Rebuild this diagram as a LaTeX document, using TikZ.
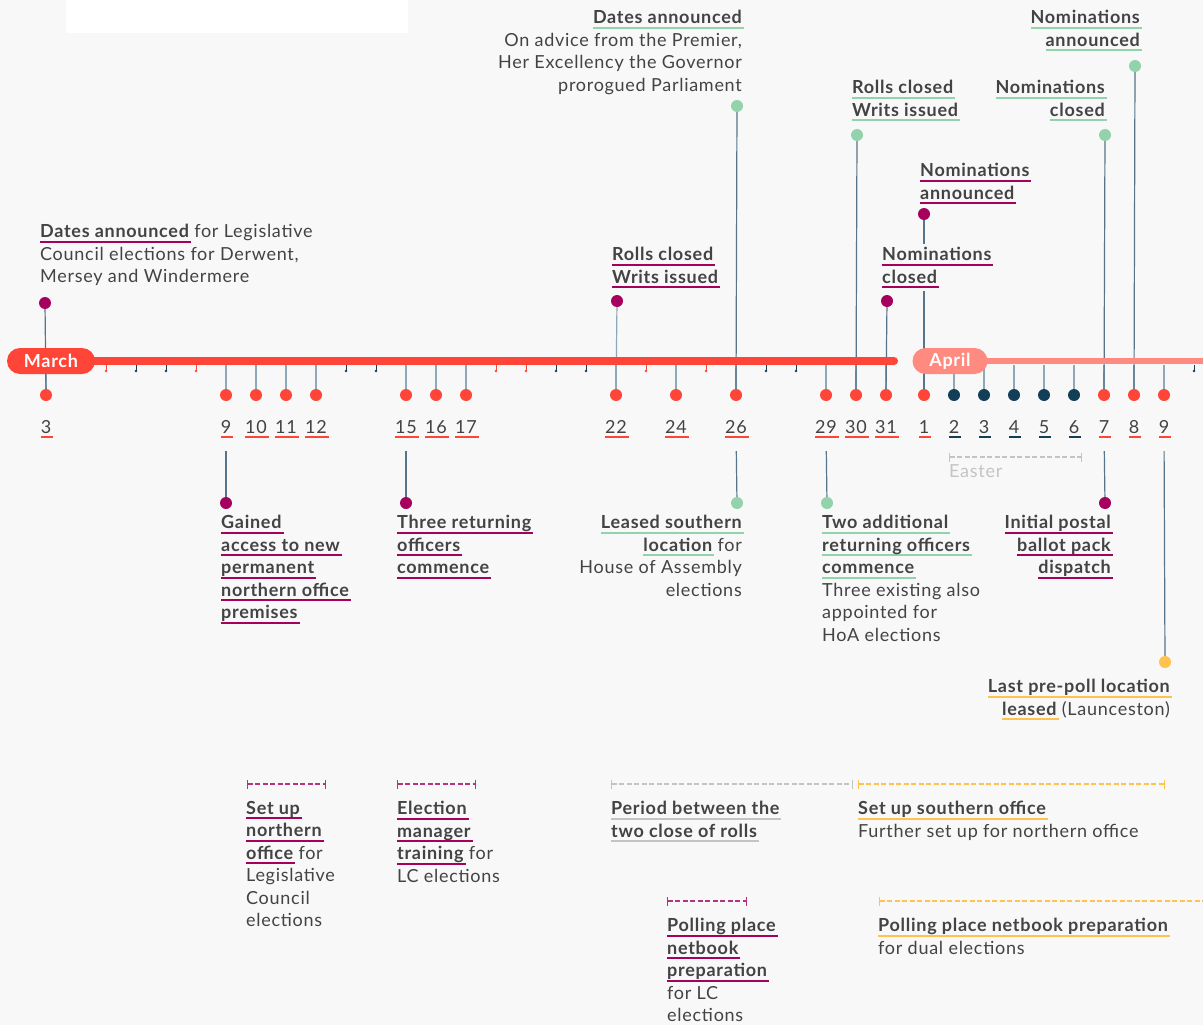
\documentclass[tikz,border=0pt]{standalone}
\usepackage{fontspec}
\setmainfont{Lato}[LetterSpace=4]
\usetikzlibrary{arrows.meta, positioning, calc}

\definecolor{bgc}{HTML}{F8F8F8}
\definecolor{redc}{HTML}{FF4438}
\definecolor{aprc}{HTML}{FF8A80}
\definecolor{magc}{HTML}{A6005F}
\definecolor{grnc}{HTML}{93D3AB}
\definecolor{yelc}{HTML}{FFC24F}
\definecolor{navc}{HTML}{123F57}
\definecolor{stemc}{HTML}{56748A}
\definecolor{lstemc}{HTML}{8FA8B7}
\definecolor{txtc}{HTML}{434343}
\definecolor{gryc}{HTML}{C4C4C4}

% underlined words
\newlength\ulw
\newcommand\ulc[2]{\settowidth\ulw{#2}\rlap{\textcolor{#1}{\rule[-5pt]{\dimexpr\ulw+2pt}{2pt}}}#2}
\newcommand\ev[2]{\ulc{#1}{{\bfseries #2}}}

\tikzset{
  lbl/.style={font=\fontsize{18}{22.5}\selectfont, text=txtc, inner sep=0pt, align=left},
  lblr/.style={lbl, align=right},
  num/.style={font=\fontsize{18}{20}\selectfont, text=txtc, inner sep=0pt},
  dot/.style={circle, inner sep=0pt, minimum size=12pt},
  stem/.style={draw=stemc, line width=1.2pt},
  sstem/.style={draw=lstemc, line width=1.2pt},
  pill/.style={rounded corners=13pt, minimum height=26pt, text=white,
    font=\fontsize{18}{20}\selectfont\bfseries},
  rng/.style={dash pattern=on 5pt off 2.5pt, line width=1.2pt,
    arrows={Bar[width=9pt]-Bar[width=9pt]}},
}

\begin{document}
\begin{tikzpicture}[x=1pt, y=-1pt]
    % background
    \fill[bgc] (0,0) rectangle (1203,1025);
    \useasboundingbox (0,0) rectangle (1203,1025);
    \fill[white] (66,0) rectangle (408,33);

    % March days
    \foreach \d in {3,9,10,11,12,15,16,17,22,24,26,29,30,31} {
        \coordinate (bm\d) at ({46+(\d-3)*30},365);
        \node[dot, fill=redc] (dm\d) at ({46+(\d-3)*30},395) {};
        \node[num, anchor=base] (nm\d) at ({46+(\d-3)*30},433) {\ulc{redc}{\d}};
        \draw[sstem] (bm\d) -- (dm\d);
    }
    % April days
    \foreach \d/\c in {1/redc,2/navc,3/navc,4/navc,5/navc,6/navc,7/redc,8/redc,9/redc} {
        \coordinate (ba\d) at ({924+(\d-1)*30},365);
        \node[dot, fill=\c] (da\d) at ({924+(\d-1)*30},395) {};
        \node[num, anchor=base] (na\d) at ({924+(\d-1)*30},433) {\ulc{\c}{\d}};
        \draw[sstem] (ba\d) -- (da\d);
    }
    % small ticks
    \foreach \d/\c in {5/redc,6/navc,7/navc,8/redc,13/navc,14/navc,18/redc,19/redc,20/navc,21/navc,23/redc,25/redc,27/navc,28/navc} {
        \draw[\c, line width=0.8pt] ({46+(\d-3)*30},365) -- ++(0,6);
        \fill[\c] ({46+(\d-3)*30},371) circle (1.3pt);
    }
    \draw[navc, line width=0.8pt] (1194,365) -- ++(0,6);
    \fill[navc] (1194,371) circle (1.3pt);

    % events above the line
    \node[dot, fill=magc] (em3) at (45,303) {};
    \node[lbl, anchor=north west] (lem3) at (40,224)
        {\ev{magc}{Dates announced} for Legislative\\Council elections for Derwent,\\Mersey and Windermere};
    \node[dot, fill=magc] (em22) at (617,301) {};
    \node[lbl, anchor=north west] (lem22) at (612,247)
        {\ev{magc}{Rolls closed}\\\ev{magc}{Writs issued}};
    \node[dot, fill=grnc] (em26) at (737,106) {};
    \node[lblr, anchor=north east] (lem26) at (742,10)
        {\ev{grnc}{Dates announced}\\On advice from the Premier,\\Her Excellency the Governor\\prorogued Parliament};
    \node[dot, fill=grnc] (em30) at (857,135) {};
    \node[lbl, anchor=north west] (lem30) at (852,80)
        {\ev{grnc}{Rolls closed}\\\ev{grnc}{Writs issued}};
    \node[dot, fill=magc] (em31) at (887,301) {};
    \node[lbl, anchor=north west, inner ysep=3pt] (lem31) at (882,244)
        {\ev{magc}{Nominations}\\\ev{magc}{closed}};
    \node[dot, fill=magc] (ea1) at (924,214) {};
    \node[lbl, anchor=north west] (lea1) at (920,163)
        {\ev{magc}{Nominations}\\\ev{magc}{announced}};
    \node[dot, fill=grnc] (ea7) at (1105,135) {};
    \node[lblr, anchor=north east] (lea7) at (1105,80)
        {\ev{grnc}{Nominations}\\\ev{grnc}{closed}};
    \node[dot, fill=grnc] (ea8) at (1135,66) {};
    \node[lblr, anchor=north east] (lea8) at (1140,10)
        {\ev{grnc}{Nominations}\\\ev{grnc}{announced}};

    \draw[stem] (em3) -- (dm3);
    \draw[sstem] (em22) -- (dm22);
    \draw[stem] (em26) -- (dm26);
    \draw[stem] (em30) -- (dm30);
    \draw[stem] (em31) -- (dm31);
    \draw[stem] (ea1) -- (ea1 |- lem31.north);
    \draw[stem] (ea1 |- lem31.south) -- (da1);
    \draw[stem] (ea7) -- (da7);
    \draw[stem] (ea8) -- (da8);

    % events below the line
    \node[dot, fill=magc] (fm9) at (226,503) {};
    \node[lbl, anchor=north west] (lfm9) at (221,515)
        {\ev{magc}{Gained}\\\ev{magc}{access to new}\\\ev{magc}{permanent}\\\ev{magc}{northern office}\\\ev{magc}{premises}};
    \node[dot, fill=magc] (fm15) at (406,503) {};
    \node[lbl, anchor=north west] (lfm15) at (397,515)
        {\ev{magc}{Three returning}\\\ev{magc}{officers}\\\ev{magc}{commence}};
    \node[dot, fill=grnc] (fm26) at (737,503) {};
    \node[lblr, anchor=north east] (lfm26) at (742,515)
        {\ev{grnc}{Leased southern}\\\ev{grnc}{location} for\\House of Assembly\\elections};
    \node[dot, fill=grnc] (fm29) at (827,503) {};
    \node[lbl, anchor=north west] (lfm29) at (822,515)
        {\ev{grnc}{Two additional}\\\ev{grnc}{returning officers}\\\ev{grnc}{commence}\\Three existing also\\appointed for\\HoA elections};
    \node[dot, fill=magc] (fa7) at (1105,503) {};
    \node[lblr, anchor=north east] (lfa7) at (1111,515)
        {\ev{magc}{Initial postal}\\\ev{magc}{ballot pack}\\\ev{magc}{dispatch}};
    \node[dot, fill=yelc] (fa9) at (1165,662) {};
    \node[lblr, anchor=north east] (lfa9) at (1170,679)
        {\ev{yelc}{Last pre-poll location}\\\ev{yelc}{leased} (Launceston)};

    \foreach \a/\b in {nm9/fm9, nm15/fm15, nm26/fm26, nm29/fm29, na7/fa7, na9/fa9}
        \draw[stem, shorten <=13pt] (\a) -- (\b);

    % Easter
    \draw[rng, gryc] (949,457) -- (1082,457);
    \node[lbl, text=gryc, anchor=north west] (easter) at (949,464) {Easter};

    % periods
    \draw[rng, magc!80] (247,784) -- (326,784);
    \node[lbl, anchor=north west] (pnorth) at (246,801)
        {\ev{magc}{Set up}\\\ev{magc}{northern}\\\ev{magc}{office} for\\Legislative\\Council\\elections};
    \draw[rng, magc!80] (397,784) -- (476,784);
    \node[lbl, anchor=north west] (ptrain) at (397,801)
        {\ev{magc}{Election}\\\ev{magc}{manager}\\\ev{magc}{training} for\\LC elections};
    \draw[rng, gryc] (611,784) -- (853,784);
    \node[lbl, anchor=north west] (prolls) at (611,801)
        {\ev{gryc}{Period between the}\\\ev{gryc}{two close of rolls}};
    \draw[rng, yelc] (858,784) -- (1165,784);
    \node[lbl, anchor=north west] (psouth) at (858,801)
        {\ev{yelc}{Set up southern office}\\Further set up for northern office};
    \draw[rng, magc!80] (667,901) -- (747,901);
    \node[lbl, anchor=north west] (pnetlc) at (667,918)
        {\ev{magc}{Polling place}\\\ev{magc}{netbook}\\\ev{magc}{preparation}\\for LC\\elections};
    \draw[rng, yelc, arrows={Bar[width=9pt]-}] (879,901) -- (1215,901);
    \node[lbl, anchor=north west] (pnetdual) at (878,918)
        {\ev{yelc}{Polling place netbook preparation}\\for dual elections};

    % month bars
    \draw[redc, line width=8pt, line cap=round] (90,361) -- (894,361);
    \draw[aprc, line width=6pt] (980,361) -- (1203,361);
    \node[pill, fill=redc, minimum width=88pt] (march) at (51,361) {March};
    \node[pill, fill=aprc, minimum width=75pt] (april) at (950,361) {April};
\end{tikzpicture}
\end{document}
